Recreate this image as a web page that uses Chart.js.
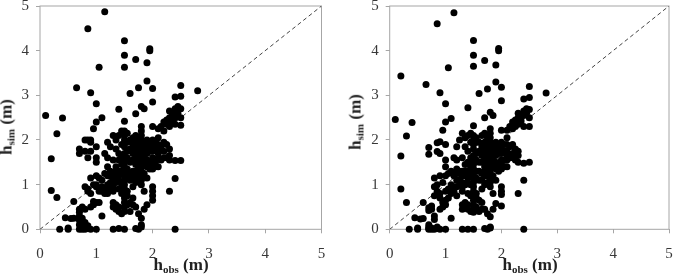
<!DOCTYPE html>
<html>
<head>
<meta charset="utf-8">
<script src="https://cdn.jsdelivr.net/npm/chart.js@4.4.1/dist/chart.umd.min.js"></script>
<style>
  body { margin: 0; background: #fff; }
  #wrap { position: relative; width: 673px; height: 280px; overflow: hidden; }
  canvas { position: absolute; top: 0; }
  .t { position: absolute; font: bold 17px "Liberation Serif", "Times New Roman", serif; color: #222; white-space: nowrap; line-height: 17px; }
  .t sub { font-size: 11px; line-height: 0; vertical-align: -3px; }
  .xt { transform: translateX(-50%); }
  .yt { transform: translate(-50%, -50%) rotate(-90deg); }
</style>
</head>
<body>
<div id="wrap">
  <canvas id="left" width="336" height="280" style="left:0"></canvas>
  <canvas id="right" width="337" height="280" style="left:336px"></canvas>
  <div class="t xt" style="left:181px;top:256px">h<sub>obs</sub> (m)</div>
  <div class="t xt" style="left:530px;top:256px">h<sub>obs</sub> (m)</div>
  <div class="t yt" style="left:6px;top:127px">h<sub>sim</sub> (m)</div>
  <div class="t yt" style="left:355px;top:122px">h<sub>sim</sub> (m)</div>
</div>
<script>
// observed depths (x), one entry per column of points
const hObs = [0.1, 0.2, 0.3, 0.35, 0.4, 0.45, 0.5, 0.55, 0.6, 0.65, 0.7, 0.75, 0.8, 0.85, 0.9, 0.95,
  1.0, 1.05, 1.1, 1.15, 1.2, 1.25, 1.3, 1.35, 1.4, 1.45, 1.5, 1.55, 1.6, 1.65, 1.7, 1.75, 1.8, 1.85,
  1.9, 1.95, 2.0, 2.05, 2.1, 2.15, 2.2, 2.25, 2.3, 2.35, 2.4, 2.45, 2.5, 2.8];

// simulated depths, left panel
const hSimA = [
  [2.55], [1.58, 0.87], [2.14, 0.71], [0], [2.49], [0.26], [0, 0.03], [0.24], [0.25, 0.62], [3.17],
  [1.8, 1.7, 0.45, 0.38, 0.3, 0.2, 0.1, 0], [0.5, 0.25, 0, 0.05], [2.0, 1.75, 0.95, 0.45, 0.15, 0],
  [4.49, 2.0, 1.6, 0.9, 0.85, 0.02, 0.08], [3.06, 2.0, 1.95, 1.75, 1.15, 0.8, 0.5, 0], [2.25, 1.0, 0.62, 0.55],
  [2.81, 2.4, 1.85, 1.6, 1.5, 1.2, 1.0, 0.95, 0.6, 0], [3.63, 1.15, 0.85, 0.6], [2.5, 1.1, 0.95, 0.85, 0.3],
  [4.87, 1.7, 1.25, 0.85, 0.8], [1.95, 1.6, 1.4, 1.2, 1.0, 0.9, 0.8], [1.85, 1.3, 1.2, 1.05, 0.95],
  [2.1, 1.55, 1.25, 1.2, 1.1, 0.95, 0.85, 0.6, 0.5, 0], [2.0, 1.8, 1.4, 1.3, 1.15, 1.05, 0.55, 0.45],
  [2.69, 2.1, 1.7, 1.55, 1.3, 1.2, 1.1, 0.9, 0.5, 0.4, 0.02], [2.2, 1.9, 1.6, 1.45, 1.3, 1.0, 0.8, 0.35],
  [4.22, 3.9, 3.63, 2.42, 2.2, 2.1, 2.0, 1.85, 1.7, 1.6, 1.5, 1.4, 1.3, 1.2, 1.1, 1.0, 0.9, 0.8, 0.7, 0.6, 0.5, 0.4, 0],
  [2.15, 1.95, 1.75, 1.6, 1.35, 1.2, 0.85, 0.75, 0.55], [3.04, 2.0, 1.8, 1.5, 1.25, 1.1, 0.6, 0.4],
  [2.05, 1.9, 1.7, 1.55, 1.3, 1.15, 0.95, 0.7, 0.55], [3.8, 2.59, 2.1, 1.95, 1.8, 1.6, 1.45, 1.3, 1.2, 1.05, 0.5, 0.02],
  [3.17, 2.0, 1.85, 1.7, 1.5, 1.35, 1.2, 1.1, 0.35, 0],
  [2.75, 2.3, 2.2, 2.1, 2.0, 1.9, 1.8, 1.7, 1.6, 1.5, 1.4, 1.3, 1.2, 1.1, 1.0, 0.25, 0.1, 0.05],
  [2.7, 1.95, 1.75, 1.6, 1.45, 1.25, 0.85, 0.45], [3.73, 3.32, 2.0, 1.85, 1.7, 1.55, 1.4, 1.15, 0.55],
  [4.04, 4.0, 1.9, 1.75, 1.5, 1.35], [3.15, 2.85, 2.3, 2.0, 1.85, 1.75, 1.6, 1.45, 1.35, 0.95, 0.85, 0.75, 0.65],
  [1.95, 1.8, 1.5, 1.4], [2.25, 2.05, 1.9, 1.8, 1.7, 1.6, 1.4], [2.3, 1.85, 1.55], [2.4, 2.2, 1.95, 1.75, 1.6],
  [2.45, 2.35, 1.9, 1.6], [2.65, 2.5, 2.3, 1.8, 1.65, 1.55, 0.85], [2.55, 2.4, 2.6],
  [2.96, 2.7, 2.5, 2.35, 1.54, 1.14, 0], [2.6, 2.75], [3.22, 2.98, 2.7, 2.5, 2.33, 1.54], [3.1]
];

// simulated depths, right panel
const hSimB = [
  [2.46], [3.43, 1.64, 0.9], [2.09, 0.6], [0], [2.39], [0.26], [0, 0.03], [0.23], [0.24, 0.6], [3.24],
  [1.83, 1.68, 0.48, 0.42, 0.1, 0.05, 0.02, 0], [0.52, 0.45, 0, 0.03], [1.15, 0.95, 0.75, 0.3, 0.22, 0],
  [4.6, 1.94, 1.74, 1.0, 0.85, 0.02, 0.05], [3.06, 1.96, 1.7, 1.2, 0.8, 0.7, 0.45, 0], [2.22, 1.05, 0.6, 0.5],
  [2.81, 2.4, 1.9, 1.55, 1.4, 1.2, 0.85, 0.55, 0.65, 0], [3.62, 1.25, 0.9, 0.7], [2.48, 1.3, 1.0, 0.8, 0.25],
  [4.85, 1.6, 1.2, 0.95, 0.85], [1.85, 1.55, 1.35, 1.25, 1.1, 0.95, 0.75], [2.0, 1.3, 1.25, 1.1, 1.0],
  [2.15, 1.6, 1.3, 1.2, 1.05, 0.95, 0.85, 0.55, 0.45, 0], [2.05, 1.85, 1.45, 1.3, 1.2, 1.0, 0.6, 0.5],
  [2.72, 2.1, 1.75, 1.5, 1.3, 1.15, 1.05, 0.8, 0.55, 0.45, 0], [2.15, 1.95, 1.6, 1.4, 1.25, 1.0, 0.75, 0.4],
  [4.23, 3.9, 3.65, 2.32, 2.1, 2.0, 1.9, 1.8, 1.65, 1.55, 1.45, 1.35, 1.25, 1.15, 1.05, 0.95, 0.85, 0.75, 0.65, 0.55, 0.45, 0.38, 0],
  [2.05, 1.95, 1.7, 1.55, 1.3, 1.15, 0.8, 0.7, 0.5], [3.04, 1.95, 1.75, 1.5, 1.3, 1.1, 0.65, 0.4],
  [2.1, 1.85, 1.65, 1.5, 1.25, 1.1, 0.9, 0.6, 0.45], [3.78, 2.5, 2.15, 1.95, 1.75, 1.6, 1.4, 1.3, 1.2, 1.0, 0.45, 0.02],
  [3.14, 2.05, 1.85, 1.65, 1.5, 1.35, 1.2, 1.05, 0.35, 0],
  [2.62, 2.25, 2.15, 2.05, 1.95, 1.85, 1.75, 1.65, 1.55, 1.45, 1.35, 1.25, 1.15, 1.05, 0.95, 0.28, 0.05, 0.03],
  [2.55, 1.9, 1.7, 1.55, 1.4, 1.2, 0.8, 0.45], [3.68, 3.3, 1.95, 1.8, 1.65, 1.5, 1.35, 1.1, 0.58],
  [4.05, 4.0, 1.85, 1.7, 1.45, 1.3], [3.18, 2.88, 2.22, 1.95, 1.8, 1.7, 1.55, 1.45, 1.35, 0.95, 0.85, 0.78, 0.52],
  [1.9, 1.75, 1.55, 1.4], [2.22, 2.05, 1.9, 1.75, 1.65, 1.55, 1.4], [2.3, 1.85, 1.6], [2.4, 2.25, 1.9, 1.7, 1.6],
  [2.45, 2.3, 1.8, 1.55], [2.6, 2.5, 2.35, 1.75, 1.65, 1.5, 0.8], [2.55, 2.45, 2.4],
  [2.92, 2.65, 2.55, 2.3, 1.48, 1.1, 0], [2.6, 2.7], [3.2, 2.95, 2.68, 2.5, 2.3, 1.5], [3.05]
];

const axisTicks = [0, 1, 2, 3, 4, 5];
const oneToOne = [0, 5];

const serif = '"Liberation Serif", "Times New Roman", serif';
const gray = '#a6a6a6';

function toPoints(sims) {
  const pts = [];
  hObs.forEach((x, i) => sims[i].forEach(y => pts.push({ x: x, y: y })));
  return pts;
}

// grey box round the plot area
const frame = {
  id: 'frame',
  beforeDatasetsDraw(chart) {
    const a = chart.chartArea, ctx = chart.ctx;
    ctx.save();
    ctx.strokeStyle = gray;
    ctx.lineWidth = 1;
    ctx.strokeRect(a.left, a.top, a.right - a.left, a.bottom - a.top);
    ctx.restore();
  }
};

function makeChart(id, sims, yWidth, padRight) {
  new Chart(document.getElementById(id), {
    data: {
      datasets: [{
        type: 'scatter',
        data: toPoints(sims),
        backgroundColor: '#000',
        borderWidth: 0,
        pointRadius: 3.5,
        clip: false
      }, {
        type: 'line',
        data: oneToOne.map(v => ({ x: v, y: v })),
        borderColor: '#444',
        borderWidth: 1,
        borderDash: [4, 3],
        pointRadius: 0
      }]
    },
    options: {
      responsive: false,
      animation: false,
      devicePixelRatio: 1,
      layout: { padding: { left: 0, right: padRight, top: 6, bottom: 0 } },
      plugins: { legend: { display: false }, tooltip: { enabled: false } },
      scales: {
        x: {
          type: 'linear', min: axisTicks[0], max: axisTicks[axisTicks.length - 1],
          afterBuildTicks: s => { s.ticks = axisTicks.map(v => ({ value: v })); },
          ticks: { font: { family: serif, size: 15 }, color: '#383838', padding: 12, maxRotation: 0 },
          grid: { drawOnChartArea: false, drawTicks: true, tickLength: 4, color: gray },
          border: { display: false },
          afterFit: s => { s.height = 50.7; s.paddingLeft = 0; s.paddingRight = 0; }
        },
        y: {
          type: 'linear', min: axisTicks[0], max: axisTicks[axisTicks.length - 1],
          afterBuildTicks: s => { s.ticks = axisTicks.map(v => ({ value: v })); },
          ticks: { font: { family: serif, size: 15 }, color: '#383838', padding: 7 },
          grid: { drawOnChartArea: false, drawTicks: true, tickLength: 4, color: gray },
          border: { display: false },
          afterFit: s => { s.width = yWidth; s.paddingTop = 0; s.paddingBottom = 0; }
        }
      }
    },
    plugins: [frame]
  });
}

makeChart('left', hSimA, 40, 14.5);
makeChart('right', hSimB, 53.7, 2.3);
</script>
</body>
</html>
